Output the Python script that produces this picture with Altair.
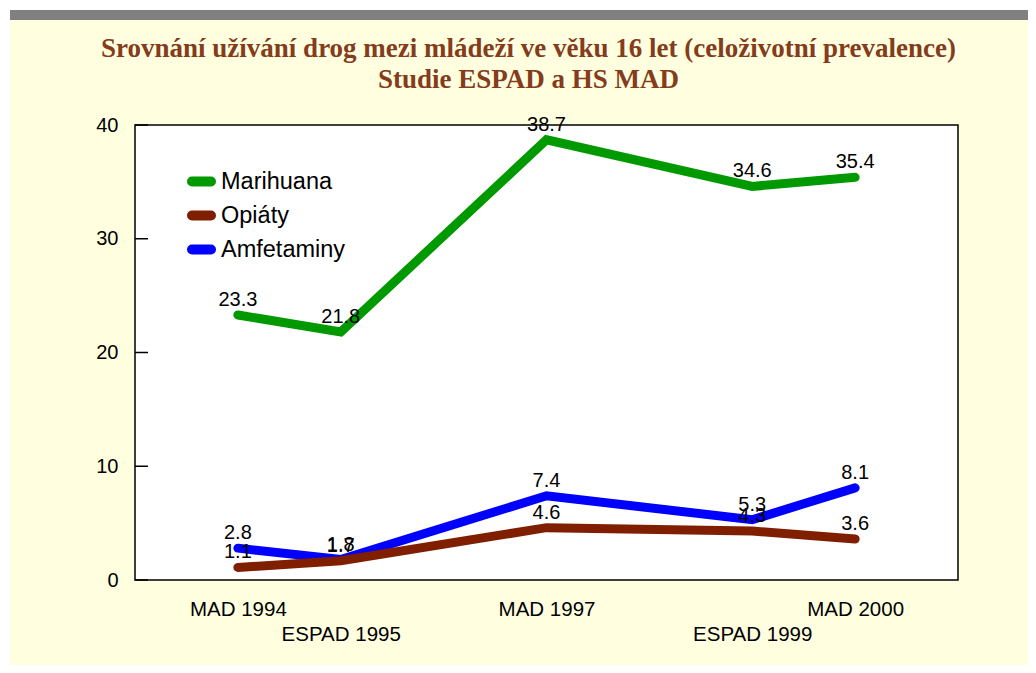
import altair as alt
import pandas as pd

# ---- data ----
years = [1994, 1995, 1997, 1999, 2000]
survey_labels = ["MAD 1994", "ESPAD 1995", "MAD 1997", "ESPAD 1999", "MAD 2000"]
series_names = ["Marihuana", "Opiáty", "Amfetaminy"]
marihuana = [23.3, 21.8, 38.7, 34.6, 35.4]
opiaty = [1.1, 1.7, 4.6, 4.3, 3.6]
amfetaminy = [2.8, 1.8, 7.4, 5.3, 8.1]
y_ticks = [0, 10, 20, 30, 40]
title_lines = [
    "Srovnání užívání drog mezi mládeží ve věku 16 let (celoživotní prevalence)",
    "Studie ESPAD a HS MAD",
]
series_colors = ["#009900", "#7F1F00", "#0000FF"]

# drawing order: blue first, then brown, then green
rows = []
for name, vals in [("Amfetaminy", amfetaminy), ("Opiáty", opiaty), ("Marihuana", marihuana)]:
    for yr, v in zip(years, vals):
        rows.append({"rok": yr, "serie": name, "hodnota": v})
df = pd.DataFrame(rows)

# staggered x labels: every second label on a lower row
parts = []
for i, (yr, lab) in enumerate(zip(years, survey_labels)):
    val = f"['', '{lab}']" if i % 2 == 1 else f"'{lab}'"
    parts.append(f"datum.value == {yr} ? {val} : ")
label_expr = "".join(parts) + "''"

FONT = "Liberation Sans"

x_scale = alt.Scale(domain=[1993, 2001], nice=False, zero=False)
y_scale = alt.Scale(domain=[0, 40], nice=False)

x_axis = alt.Axis(
    values=years, labelExpr=label_expr, labelOverlap=False, labelBound=False,
    labelFont=FONT, labelFontSize=20.5, labelColor="black", labelPadding=19,
    labelLineHeight=25, labelBaseline="top", ticks=False, tickSize=0,
    domain=False, grid=False, labelFlush=False,
)
y_axis = alt.Axis(
    values=y_ticks, labelFont=FONT, labelFontSize=20, labelColor="black",
    labelPadding=17, ticks=False, tickSize=0, domain=False, grid=False,
    labelBaseline="middle",
)

X = alt.X("rok:Q", scale=x_scale, axis=x_axis, title=None)
Y = alt.Y("hodnota:Q", scale=y_scale, axis=y_axis, title=None)

capsule = ("M -0.95,-0.05 L 0.95,-0.05 A 0.05,0.05 0 0 1 0.95,0.05 "
           "L -0.95,0.05 A 0.05,0.05 0 0 1 -0.95,-0.05 Z")

lines = alt.Chart(df).mark_line(strokeWidth=9, strokeCap="round").encode(
    x=X, y=Y,
    color=alt.Color(
        "serie:N",
        scale=alt.Scale(domain=series_names, range=series_colors),
        legend=alt.Legend(
            title=None, orient="none", legendX=52, legendY=42,
            symbolType=capsule, symbolSize=400, symbolStrokeWidth=9,
            labelFont=FONT, labelFontSize=23.5, labelColor="black",
            rowPadding=-3, labelOffset=5, padding=0,
        ),
    ),
)

texts = alt.Chart(df).mark_text(dy=-15, fontSize=20, font=FONT, color="black").encode(
    x=X, y=Y, text=alt.Text("hodnota:Q", format=".1f")
)

tick_df = pd.DataFrame({"hodnota": y_ticks})
ticks = alt.Chart(tick_df).mark_rule(color="black", strokeWidth=1.5).encode(
    y=Y, x=alt.value(0), x2=alt.value(13)
)

blank = alt.Data(values=[{}])
gray_bar = alt.Chart(blank).mark_rect(color="#808080", clip=False).encode(
    x=alt.value(-125), x2=alt.value(893), y=alt.value(-115), y2=alt.value(-105)
)
white_top = alt.Chart(blank).mark_rect(color="white", clip=False).encode(
    x=alt.value(-127), x2=alt.value(893), y=alt.value(-117), y2=alt.value(-115)
)
white_left = alt.Chart(blank).mark_rect(color="white", clip=False).encode(
    x=alt.value(-127), x2=alt.value(-125), y=alt.value(-117), y2=alt.value(540)
)

chart = alt.layer(white_top, white_left, gray_bar, ticks, lines, texts).properties(
    width=823,
    height=455,
    title=alt.Title(
        text=title_lines, fontSize=27, font="Liberation Serif", fontWeight="bold",
        color="#843C1C", lineHeight=31, anchor="middle", dx=-18, offset=-86,
    ),
    padding={"left": 127, "top": 117, "right": 70, "bottom": 85},
    autosize=alt.AutoSizeParams(type="none"),
    background="#FFFFE0",
).configure_view(stroke="black", strokeWidth=1.5, fill="white")

chart.save("out.html", embed_options={"renderer": "svg", "actions": False})
